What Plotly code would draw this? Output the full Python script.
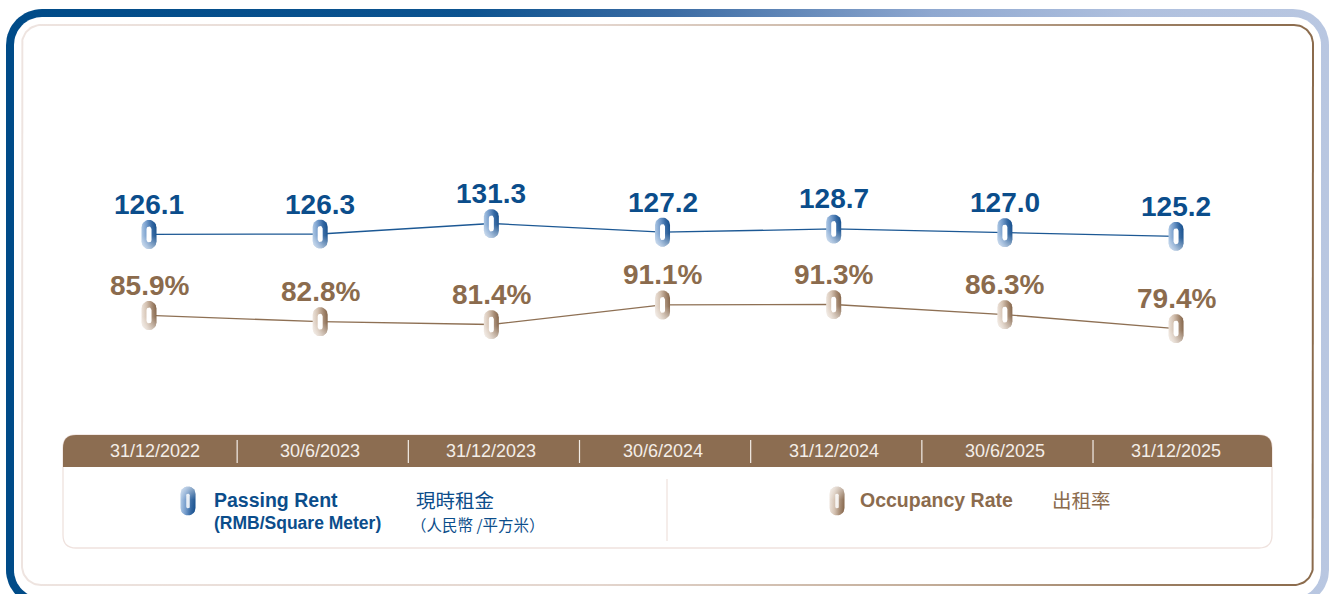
import math
import plotly.graph_objects as go

# ---------------- data ----------------
dates = ["31/12/2022", "30/6/2023", "31/12/2023", "30/6/2024",
         "31/12/2024", "30/6/2025", "31/12/2025"]
passing_rent = [126.1, 126.3, 131.3, 127.2, 128.7, 127.0, 125.2]
occupancy_rate = [85.9, 82.8, 81.4, 91.1, 91.3, 86.3, 79.4]

legend_rent_en = "Passing Rent"
legend_rent_unit_en = "(RMB/Square Meter)"
legend_rent_zh = "現時租金"
legend_rent_unit_zh = "（人民幣 /平方米）"
legend_occ_en = "Occupancy Rate"
legend_occ_zh = "出租率"

# ---------------- layout constants ----------------
W, H = 1334, 594
PLOT_L, PLOT_R = 63, 1272
PLOT_T, PLOT_B = 150, 420
X_RANGE = [-0.5024, 6.5606]
RENT_RANGE = [37.73, 166.3]
OCC_RANGE = [34.13, 167.79]

BLUE = "#0b4d8b"
BROWN = "#8b6b4d"
BAR_BROWN = "#8c6d51"
LATIN = "Liberation Sans, Arial, sans-serif"
CJK = "Noto Sans CJK TC, Noto Sans CJK SC, sans-serif"

SX = (PLOT_R - PLOT_L) / (X_RANGE[1] - X_RANGE[0])
SY_RENT = (PLOT_B - PLOT_T) / (RENT_RANGE[1] - RENT_RANGE[0])
SY_OCC = (PLOT_B - PLOT_T) / (OCC_RANGE[1] - OCC_RANGE[0])


def rrect(x0, y0, x1, y1, r, n=16):
    """Rounded rectangle in screen pixel coords (y down)."""
    xs, ys = [], []
    corners = [((x1 - r, y0 + r), 90, 0), ((x1 - r, y1 - r), 0, -90),
               ((x0 + r, y1 - r), -90, -180), ((x0 + r, y0 + r), 180, 90)]
    for (cx, cy), a0, a1 in corners:
        for k in range(n + 1):
            t = math.radians(a0 + (a1 - a0) * k / n)
            xs.append(cx + r * math.cos(t))
            ys.append(cy - r * math.sin(t))
    xs.append(xs[0]); ys.append(ys[0])
    return xs, ys


def capsule(w, h, n=14):
    """Capsule outline offsets in pixels (y up), centred on 0,0."""
    r = w / 2.0
    c = h / 2.0 - r
    pts = []
    for k in range(n + 1):
        t = math.pi * k / n
        pts.append((r * math.cos(t), c + r * math.sin(t)))
    for k in range(n + 1):
        t = math.pi + math.pi * k / n
        pts.append((r * math.cos(t), -c + r * math.sin(t)))
    pts.append(pts[0])
    return pts


def rrect_path(x0, y0, x1, y1, r, top_only=False):
    if top_only:
        return (f"M {x0},{y1} L {x0},{y0 + r} Q {x0},{y0} {x0 + r},{y0} "
                f"L {x1 - r},{y0} Q {x1},{y0} {x1},{y0 + r} L {x1},{y1} Z")
    return (f"M {x0 + r},{y0} L {x1 - r},{y0} Q {x1},{y0} {x1},{y0 + r} "
            f"L {x1},{y1 - r} Q {x1},{y1} {x1 - r},{y1} L {x0 + r},{y1} "
            f"Q {x0},{y1} {x0},{y1 - r} L {x0},{y0 + r} Q {x0},{y0} {x0 + r},{y0} Z")


fig = go.Figure()

# ---------------- decorative frame (pixel axis x/y) ----------------
def deco_fill(xs, ys, color=None, gradient=None):
    kw = dict(x=xs, y=ys, mode="lines", line=dict(width=0), fill="toself",
              hoverinfo="skip", showlegend=False, xaxis="x", yaxis="y")
    if gradient is not None:
        kw["fillgradient"] = gradient
        kw["fillcolor"] = gradient["colorscale"][-1][1]
    else:
        kw["fillcolor"] = color
    fig.add_trace(go.Scatter(**kw))

outer_grad = dict(type="horizontal",
                  colorscale=[[0, "#004b88"], [0.35, "#0c5390"], [0.5, "#3a6ba3"],
                              [0.7, "#8fa8d0"], [0.85, "#afc0de"], [1, "#b9c7e1"]])
xs, ys = rrect(6, 9, 1329, 606, 36)
deco_fill(xs, ys, gradient=outer_grad)
xs, ys = rrect(14, 17, 1321, 598, 28)
deco_fill(xs, ys, color="white")

inner_grad = dict(type="horizontal",
                  colorscale=[[0, "#eee4e0"], [0.45, "#e3d5cd"], [0.7, "#c3ad99"],
                              [0.88, "#9b7e62"], [1, "#8b6b4c"]])
xs, ys = rrect(21, 24, 1314, 586, 20)
deco_fill(xs, ys, gradient=inner_grad)
xs, ys = rrect(23, 26, 1312, 584, 18)
deco_fill(xs, ys, color="white")

# ---------------- capsule markers ----------------
BLUE_H = [[0, "#aac5e3"], [0.35, "#6f98c9"], [0.7, "#2f64a0"], [1, "#0f4a89"]]
BROWN_H = [[0, "#ece2d9"], [0.35, "#d2bfae"], [0.7, "#a48870"], [1, "#806044"]]
SHADE_V = [[0, "rgba(255,255,255,0.55)"], [0.45, "rgba(255,255,255,0.08)"],
           [1, "rgba(255,255,255,0)"]]

OUT_CAP = capsule(15, 29)
IN_CAP = capsule(5, 16, n=10)


def add_markers(vals, sy, yaxis, hscale):
    inner_x, inner_y = [], []
    for i, v in enumerate(vals):
        px = [i + dx / SX for dx, dy in OUT_CAP]
        py = [v + dy / sy for dx, dy in OUT_CAP]
        for grad in (dict(type="horizontal", colorscale=hscale),
                     dict(type="vertical", colorscale=SHADE_V)):
            fig.add_trace(go.Scatter(
                x=px, y=py, mode="lines", line=dict(width=0), fill="toself",
                fillgradient=grad, fillcolor=hscale[-1][1], hoverinfo="skip",
                showlegend=False, xaxis="x2", yaxis=yaxis))
        inner_x += [i + dx / SX for dx, dy in IN_CAP] + [None]
        inner_y += [v + dy / sy for dx, dy in IN_CAP] + [None]
    fig.add_trace(go.Scatter(
        x=inner_x, y=inner_y, mode="lines", line=dict(width=0), fill="toself",
        fillcolor="white", hoverinfo="skip", showlegend=False,
        xaxis="x2", yaxis=yaxis))


idx = list(range(len(dates)))

# lines
fig.add_trace(go.Scatter(x=idx, y=passing_rent, mode="lines",
                         line=dict(color="#1c5894", width=1.3),
                         hoverinfo="skip", showlegend=False, xaxis="x2", yaxis="y2"))
add_markers(passing_rent, SY_RENT, "y2", BLUE_H)

fig.add_trace(go.Scatter(x=idx, y=occupancy_rate, mode="lines",
                         line=dict(color="#8e7054", width=1.3),
                         hoverinfo="skip", showlegend=False, xaxis="x2", yaxis="y3"))
add_markers(occupancy_rate, SY_OCC, "y3", BROWN_H)

# legend capsules (pixel axis)
def legend_capsule(cx, cy, hscale):
    pts = capsule(15, 29)
    xs = [cx + dx for dx, dy in pts]
    ys = [cy - dy for dx, dy in pts]
    deco_fill(xs, ys, gradient=dict(type="horizontal", colorscale=hscale))
    deco_fill(xs, ys, gradient=dict(type="vertical",
                                    colorscale=[[0, "rgba(255,255,255,0)"],
                                                [0.55, "rgba(255,255,255,0.08)"],
                                                [1, "rgba(255,255,255,0.55)"]]))
    ip = capsule(3.5, 15, n=8)
    deco_fill([cx + dx for dx, dy in ip], [cy - dy for dx, dy in ip],
              color="rgba(255,255,255,0.85)")

legend_capsule(188, 501, BLUE_H)
legend_capsule(837, 501, BROWN_H)

# ---------------- shapes: date bar, legend box ----------------
shapes = []
shapes.append(dict(type="path", xref="x", yref="y",
                   path=rrect_path(63, 435, 1272, 548, 13),
                   line=dict(color="#efe2de", width=1.3), fillcolor="rgba(0,0,0,0)",
                   layer="above"))
shapes.append(dict(type="path", xref="x", yref="y",
                   path=rrect_path(63, 435, 1272, 467, 13, top_only=True),
                   line=dict(width=0), fillcolor=BAR_BROWN, layer="above"))
for i in range(len(dates) - 1):
    shapes.append(dict(type="line", xref="x2", yref="y", x0=i + 0.515, x1=i + 0.515,
                       y0=440, y1=463, line=dict(color="#f3ede7", width=1.2),
                       layer="above"))
shapes.append(dict(type="line", xref="x", yref="y", x0=667, x1=667, y0=479, y1=541,
                   line=dict(color="#eee1dc", width=1.2), layer="above"))

# ---------------- annotations ----------------
ann = []
for i, d in enumerate(dates):
    ann.append(dict(x=i, y=451, xref="x2", yref="y", text=d, showarrow=False,
                    xanchor="center", yanchor="middle",
                    xshift=6 if i == 0 else 0,
                    font=dict(family=LATIN, size=18, color="#f4eee8")))
for i, v in enumerate(passing_rent):
    ann.append(dict(x=i, y=v, xref="x2", yref="y2", text=f"{v:.1f}", showarrow=False,
                    xanchor="center", yanchor="middle", yshift=30,
                    font=dict(family=LATIN, size=28, color=BLUE, weight="bold")))
for i, v in enumerate(occupancy_rate):
    ann.append(dict(x=i, y=v, xref="x2", yref="y3", text=f"{v:.1f}%", showarrow=False,
                    xanchor="center", yanchor="middle", yshift=30,
                    font=dict(family=LATIN, size=28, color=BROWN, weight="bold")))

def txt(x, y, s, fam, size, color, bold=False):
    f = dict(family=fam, size=size, color=color)
    if bold:
        f["weight"] = "bold"
    ann.append(dict(x=x, y=y, xref="x", yref="y", text=s, showarrow=False,
                    xanchor="left", yanchor="middle", font=f))

txt(212, 500, legend_rent_en, LATIN, 19.5, BLUE, True)
txt(212, 523, legend_rent_unit_en, LATIN, 17.5, BLUE, True)
txt(414, 499, legend_rent_zh, CJK, 19.5, BLUE)
txt(409, 524, legend_rent_unit_zh, CJK, 15.5, BLUE)
txt(858, 500, legend_occ_en, LATIN, 19.5, BROWN, True)
txt(1050, 499, legend_occ_zh, CJK, 19.5, BROWN)

hidden = dict(visible=False, showgrid=False, zeroline=False, fixedrange=True)
fig.update_layout(
    width=W, height=H, autosize=False,
    margin=dict(l=0, r=0, t=0, b=0, pad=0),
    paper_bgcolor="white", plot_bgcolor="rgba(0,0,0,0)",
    showlegend=False,
    xaxis=dict(domain=[0, 1], range=[0, W], **hidden),
    yaxis=dict(domain=[0, 1], range=[H, 0], **hidden),
    xaxis2=dict(domain=[PLOT_L / W, PLOT_R / W], range=X_RANGE, anchor="y2", **hidden),
    yaxis2=dict(domain=[1 - PLOT_B / H, 1 - PLOT_T / H], range=RENT_RANGE,
                anchor="x2", **hidden),
    yaxis3=dict(range=OCC_RANGE, overlaying="y2", anchor="x2", **hidden),
    shapes=shapes,
    annotations=ann,
)

fig.write_html("out.html", config={"displayModeBar": False},
               post_script="document.body.style.margin='0';"
                           "document.body.style.padding='0';"
                           "document.body.style.overflow='hidden';")
